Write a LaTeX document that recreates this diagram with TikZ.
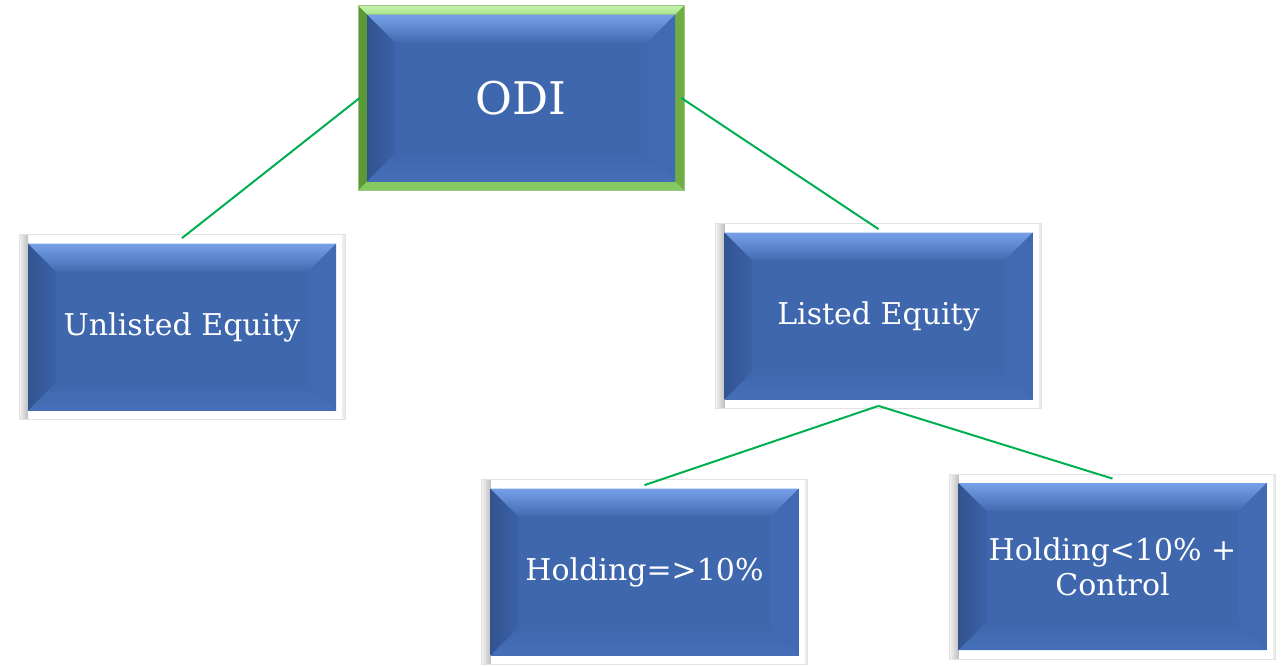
\documentclass[tikz,border=0pt]{standalone}
\usepackage{fontspec}
\setmainfont{DejaVu Serif}
\usetikzlibrary{calc}

\definecolor{boxblue}{HTML}{3F67AE}
\definecolor{bevtop}{HTML}{76A1E8}
\definecolor{bevleft}{HTML}{3B62A8}
\definecolor{bevright}{HTML}{416AB3}
\definecolor{bevbot}{HTML}{456FB8}
\definecolor{frameline}{HTML}{E2E2E2}
\definecolor{gmid}{HTML}{70AD47}
\definecolor{glight}{HTML}{B5EF97}
\definecolor{gdark}{HTML}{5A9838}
\definecolor{gbot}{HTML}{86C862}
\definecolor{linkgreen}{HTML}{00B050}

% blue bevelled panel, inset inside the node's frame
\newcommand\bluepanel{%
  \coordinate (pnw) at ([shift={(9pt,-9pt)}]path picture bounding box.north west);
  \coordinate (pse) at ([shift={(-9pt,9pt)}]path picture bounding box.south east);
  \coordinate (pne) at (pnw -| pse);
  \coordinate (psw) at (pse -| pnw);
  \fill[boxblue] (pnw) rectangle (pse);
  \shade[left color=bevleft!85!black, right color=bevleft] (pnw) -- ([shift={(28pt,-28pt)}]pnw) -- ([shift={(28pt,28pt)}]psw) -- (psw) -- cycle;
  \fill[bevright] (pne) -- ([shift={(-28pt,-28pt)}]pne) -- ([shift={(-28pt,28pt)}]pse) -- (pse) -- cycle;
  \shade[top color=boxblue, bottom color=bevbot] ([shift={(28pt,28pt)}]psw) -- ([shift={(-28pt,28pt)}]pse) -- (pse) -- (psw) -- cycle;
  \shade[top color=bevtop, bottom color=boxblue!95!bevtop] (pnw) -- (pne) -- ([shift={(-28pt,-28pt)}]pne) -- ([shift={(28pt,-28pt)}]pnw) -- cycle;
}
% light grey frame with a shaded left edge
\newcommand\grayframe{%
  \fill[white] (path picture bounding box.south west) rectangle (path picture bounding box.north east);
  \shade[left color=gray!10, right color=gray!50]
    (path picture bounding box.south west) rectangle ([xshift=9pt]path picture bounding box.north west);
  \fill[gray!15] ([xshift=-3pt]path picture bounding box.south east) rectangle (path picture bounding box.north east);
}
% green bevelled frame
\newcommand\greenframe{%
  \coordinate (fnw) at (path picture bounding box.north west);
  \coordinate (fse) at (path picture bounding box.south east);
  \coordinate (fne) at (fnw -| fse);
  \coordinate (fsw) at (fse -| fnw);
  \fill[gmid] (fsw) rectangle (fne);
  \fill[gdark] (fnw) -- ([shift={(9pt,-9pt)}]fnw) -- ([shift={(9pt,9pt)}]fsw) -- (fsw) -- cycle;
  \fill[gbot] (fsw) -- ([shift={(9pt,9pt)}]fsw) -- ([shift={(-9pt,9pt)}]fse) -- (fse) -- cycle;
  \shade[top color=glight!80!white, bottom color=glight!85!gmid] (fnw) -- (fne) -- ([shift={(-9pt,-9pt)}]fne) -- ([shift={(9pt,-9pt)}]fnw) -- cycle;
}

\tikzset{
  bevelbox/.style={minimum width=326pt, minimum height=185pt, inner sep=0pt,
    text=white, align=center, font=\fontsize{30}{35}\selectfont,
    draw=frameline, line width=0.8pt, path picture={\grayframe\bluepanel}},
  topbox/.style={bevelbox, draw=gmid!70!white, font=\fontsize{45}{50}\selectfont,
    path picture={\greenframe\bluepanel}},
  link/.style={draw=linkgreen, line width=2pt},
}

\begin{document}
\begin{tikzpicture}[x=1pt, y=-1pt]
  \useasboundingbox (0,0) rectangle (1281,665);

  \node[topbox]   (odi) at (521,98)      {ODI};
  \node[bevelbox] (unl) at (182,327)     {Unlisted Equity};
  \node[bevelbox] (lst) at (878.5,316)   {Listed Equity};
  \node[bevelbox] (hgt) at (644.5,572)   {Holding=>10\%};
  \node[bevelbox] (hlt) at (1112.5,566.5){Holding<10\% +\\Control};

  \draw[link] ([xshift=2pt]odi.west) -- ([yshift=-4pt]unl.north);
  \draw[link] ([xshift=-3pt]odi.east) -- ([yshift=-6pt]lst.north);
  \draw[link] ([yshift=3pt]lst.south) -- ([yshift=-6pt]hgt.north);
  \draw[link] ([yshift=3pt]lst.south) -- ([yshift=-5pt]hlt.north);
\end{tikzpicture}
\end{document}
